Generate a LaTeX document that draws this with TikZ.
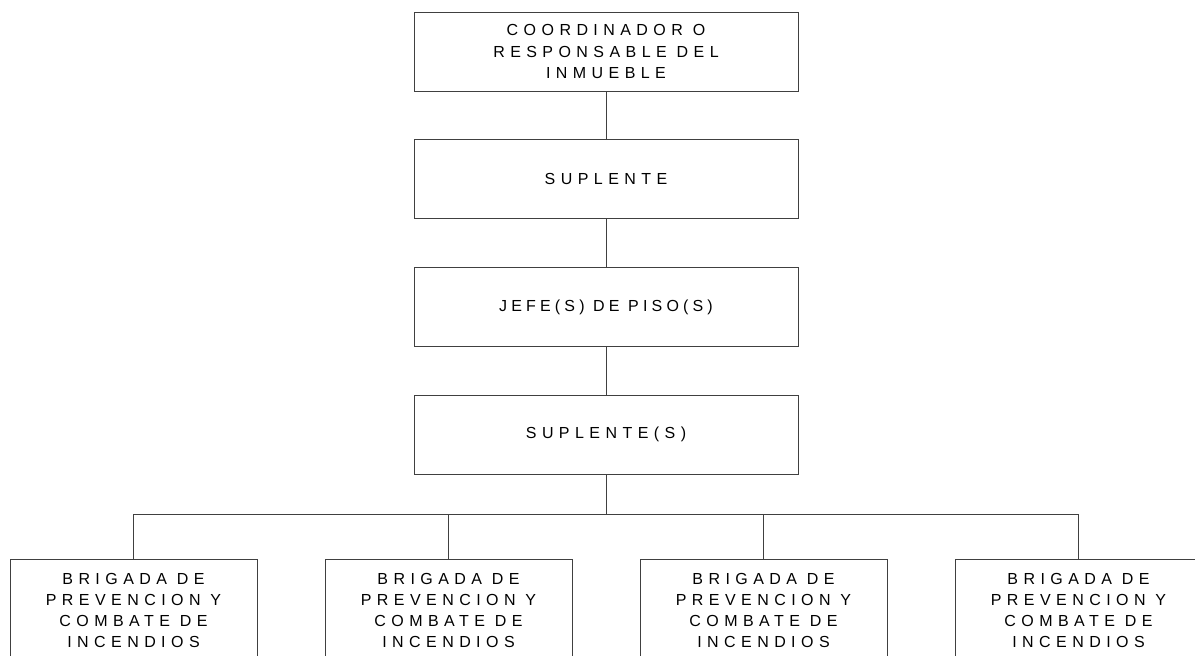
\documentclass[tikz,border=0pt]{standalone}
\usepackage{fontspec}
\setmainfont{Liberation Sans}
\newfontfamily\boxfont[LetterSpace=34]{Liberation Sans}
\newfontfamily\boxfontnarrow[LetterSpace=26]{Liberation Sans}
\begin{document}
\begin{tikzpicture}[x=1pt,y=-1pt,
  box/.style={draw=black!75, line width=0.9pt, rectangle, align=center,
    inner sep=0pt, font=\boxfont\fontsize{16}{21.3}\selectfont, text=black},
  topbox/.style={box, minimum width=384pt, minimum height=79pt},
  brig/.style={box, minimum width=247pt, minimum height=102pt},
  link/.style={draw=black!75, line width=0.9pt}]
\clip (0,0) rectangle (1195,656);
\fill[white] (0,0) rectangle (1195,656);
\node[topbox] (coord) at (606,51.5) {COORDINADOR O\\RESPONSABLE DEL\\INMUEBLE};
\node[topbox] (sup) at (606,178.5) {SUPLENTE};
\node[topbox, font=\boxfontnarrow\fontsize{16}{21.3}\selectfont] (jefe) at (606,307) {JEFE(S) DE PISO(S)};
\node[topbox] (sups) at (606,434.5) {SUPLENTE(S)};
\node[brig] (b1) at (133.5,610.5) {BRIGADA DE\\PREVENCION Y\\COMBATE DE\\INCENDIOS};
\node[brig] (b2) at (448.5,610.5) {BRIGADA DE\\PREVENCION Y\\COMBATE DE\\INCENDIOS};
\node[brig] (b3) at (763.5,610.5) {BRIGADA DE\\PREVENCION Y\\COMBATE DE\\INCENDIOS};
\node[brig] (b4) at (1078.5,610.5) {BRIGADA DE\\PREVENCION Y\\COMBATE DE\\INCENDIOS};
\coordinate (bus) at (606,514);
\draw[link] (coord.south) -- (sup.north);
\draw[link] (sup.south) -- (jefe.north);
\draw[link] (jefe.south) -- (sups.north);
\draw[link] (sups.south) -- (bus);
\draw[link] (bus) -| (b1.north);
\draw[link] (bus) -| (b2.north);
\draw[link] (bus) -| (b3.north);
\draw[link] (bus) -| (b4.north);
\end{tikzpicture}
\end{document}
